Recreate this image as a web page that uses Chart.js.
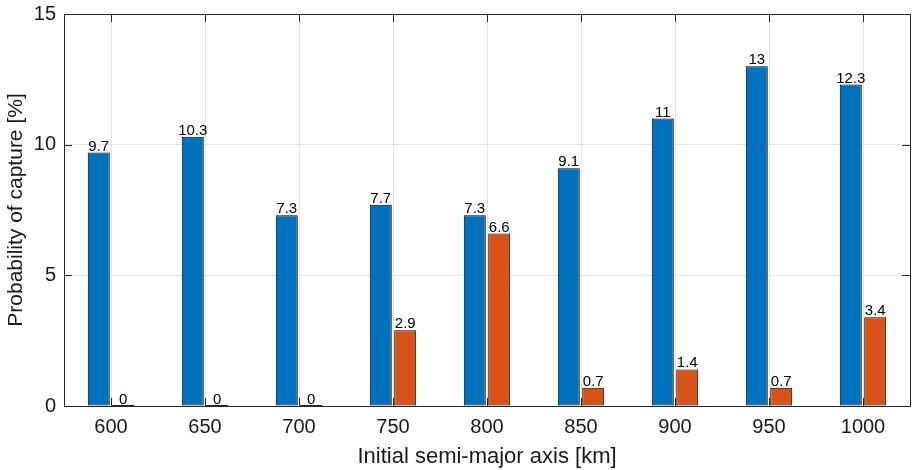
<!DOCTYPE html>
<html>
<head>
<meta charset="utf-8">
<script src="https://cdn.jsdelivr.net/npm/chart.js@4"></script>
<style>
  html, body { margin: 0; padding: 0; background: #fff; }
  #wrap { width: 913px; height: 470px; }
</style>
</head>
<body>
<div id="wrap"><canvas id="chart" width="913" height="470"></canvas></div>
<script>
  // Datos
  const axisLabels = ['600', '650', '700', '750', '800', '850', '900', '950', '1000'];
  const blueValues = [9.7, 10.3, 7.3, 7.7, 7.3, 9.1, 11, 13, 12.3];
  const orangeValues = [0, 0, 0, 2.9, 6.6, 0.7, 1.4, 0.7, 3.4];
  const yTicks = [0, 5, 10, 15];

  const fontFamily = '"Liberation Sans", Arial, Helvetica, sans-serif';

  // Etiquetas encima de cada barra, marco y marcas hacia dentro
  const matlabLook = {
      id: 'matlabLook',
      afterDatasetsDraw(chart) {
          const ctx = chart.ctx;
          ctx.save();
          ctx.font = '15px ' + fontFamily;
          ctx.fillStyle = '#000';
          ctx.textAlign = 'center';
          ctx.textBaseline = 'alphabetic';
          chart.data.datasets.forEach((ds, i) => {
              chart.getDatasetMeta(i).data.forEach((bar, j) => {
                  ctx.fillText(String(ds.data[j]), bar.x, bar.y - 2);
              });
          });
          ctx.restore();
      },
      afterDraw(chart) {
          const ctx = chart.ctx;
          const a = chart.chartArea;
          const xs = chart.scales.x;
          const ys = chart.scales.y;
          ctx.save();
          ctx.strokeStyle = '#262626';
          ctx.lineWidth = 1;
          ctx.beginPath();
          axisLabels.forEach((_, i) => {
              const px = Math.round(xs.getPixelForTick(i)) + 0.5;
              ctx.moveTo(px, a.bottom);
              ctx.lineTo(px, a.bottom - 8);
              ctx.moveTo(px, a.top);
              ctx.lineTo(px, a.top + 8);
          });
          yTicks.forEach(v => {
              const py = Math.round(ys.getPixelForValue(v)) + 0.5;
              ctx.moveTo(a.left, py);
              ctx.lineTo(a.left + 8, py);
              ctx.moveTo(a.right, py);
              ctx.lineTo(a.right - 8, py);
          });
          ctx.stroke();
          ctx.strokeRect(Math.round(a.left) + 0.5, Math.round(a.top) + 0.5,
              Math.round(a.right - a.left), Math.round(a.bottom - a.top));
          // barras de valor cero: trazo en la base
          ctx.lineWidth = 2;
          chart.data.datasets.forEach((ds, i) => {
              chart.getDatasetMeta(i).data.forEach((bar, j) => {
                  if (ds.data[j] === 0) {
                      ctx.beginPath();
                      ctx.moveTo(bar.x - bar.width / 2, bar.base);
                      ctx.lineTo(bar.x + bar.width / 2, bar.base);
                      ctx.stroke();
                  }
              });
          });
          ctx.restore();
      }
  };

  const ctx = document.getElementById('chart').getContext('2d');
  new Chart(ctx, {
      type: 'bar',
      data: {
          labels: axisLabels,
          datasets: [{
              data: blueValues,
              backgroundColor: '#0072BD',
              borderColor: '#000',
              borderWidth: 1,
              borderSkipped: false,
              categoryPercentage: 0.52,
              barPercentage: 0.9
          }, {
              data: orangeValues,
              backgroundColor: '#D95319',
              borderColor: '#000',
              borderWidth: 1,
              borderSkipped: false,
              categoryPercentage: 0.52,
              barPercentage: 0.9
          }]
      },
      options: {
          responsive: false,
          animation: false,
          layout: { padding: { top: 0, right: 3, left: 0, bottom: 0 } },
          plugins: {
              legend: { display: false },
              tooltip: { enabled: false }
          },
          scales: {
              x: {
                  offset: true,
                  grid: { offset: false, color: '#e3e3e3', drawTicks: false },
                  border: { display: false },
                  ticks: {
                      color: '#1a1a1a',
                      font: { family: fontFamily, size: 20 },
                      padding: 9,
                      maxRotation: 0
                  },
                  title: {
                      display: true,
                      text: 'Initial semi-major axis [km]',
                      color: '#1a1a1a',
                      font: { family: fontFamily, size: 22 },
                      padding: { top: 2, bottom: 0 }
                  },
                  afterFit: s => { s.height = 64; }
              },
              y: {
                  min: 0,
                  max: 15,
                  afterBuildTicks: s => { s.ticks = yTicks.map(v => ({ value: v })); },
                  grid: { color: '#e3e3e3', drawTicks: false },
                  border: { display: false },
                  ticks: {
                      color: '#1a1a1a',
                      font: { family: fontFamily, size: 20 },
                      padding: 8
                  },
                  title: {
                      display: true,
                      text: 'Probability of capture [%]',
                      color: '#1a1a1a',
                      font: { family: fontFamily, size: 21 },
                      padding: { top: 4, bottom: 0 }
                  },
                  afterFit: s => { s.width = 64; s.paddingTop = 14; s.paddingBottom = 0; }
              }
          }
      },
      plugins: [matlabLook]
  });
</script>
</body>
</html>
